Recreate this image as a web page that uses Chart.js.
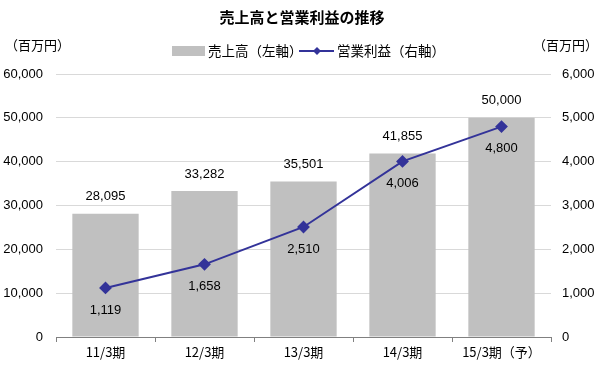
<!DOCTYPE html>
<html><head><meta charset="utf-8">
<script src="https://cdn.jsdelivr.net/npm/chart.js@4.4.1/dist/chart.umd.min.js"></script>
<style>html,body{margin:0;padding:0;background:#fff}#wrap{width:600px;height:365px}</style>
</head><body><div id="wrap"><canvas id="c" width="600" height="365"></canvas></div>
<script>
const chartTitle = '売上高と営業利益の推移';
const unitLabel = '（百万円）';
const categories = ['11/3期', '12/3期', '13/3期', '14/3期', '15/3期（予）'];
const salesLabel = '売上高（左軸）';
const profitLabel = '営業利益（右軸）';
const sales = [28095, 33282, 35501, 41855, 50000];
const profit = [1119, 1658, 2510, 4006, 4800];
const leftAxis = { min: 0, max: 60000, step: 10000 };
const rightAxis = { min: 0, max: 6000, step: 1000 };

const JP = '"Noto Sans CJK JP", sans-serif';
const NUM = '"Liberation Sans", Arial, sans-serif';
const BAR_COLOR = '#c0c0c0';
const LINE_COLOR = '#333399';
const fmt = v => Number(v).toLocaleString('en-US');

const decor = {
  id: 'decor',
  afterDatasetsDraw(chart) {
    const ctx = chart.ctx;
    ctx.save();
    ctx.fillStyle = '#000';
    ctx.textAlign = 'center';
    ctx.textBaseline = 'middle';
    ctx.font = '13px ' + NUM;
    chart.getDatasetMeta(0).data.forEach((el, i) => {
      ctx.fillText(fmt(sales[i]), el.x, el.y - 17);
    });
    chart.getDatasetMeta(1).data.forEach((el, i) => {
      ctx.fillText(fmt(profit[i]), el.x, el.y + 22);
    });
    ctx.restore();
  },
  afterDraw(chart) {
    const ctx = chart.ctx;
    ctx.save();
    ctx.fillStyle = '#000';
    ctx.textBaseline = 'middle';
    // title
    ctx.textAlign = 'center';
    ctx.font = 'bold 15px ' + JP;
    ctx.fillText(chartTitle, 302, 17);
    // units
    ctx.font = '13px ' + JP;
    ctx.textAlign = 'left';
    ctx.fillText(unitLabel, 5, 45);
    ctx.textAlign = 'right';
    ctx.fillText(unitLabel, 598, 45);
    // legend
    const ly = 51;
    ctx.fillStyle = BAR_COLOR;
    ctx.fillRect(172, ly - 5, 33, 10);
    ctx.fillStyle = '#000';
    ctx.textAlign = 'left';
    ctx.font = '13.5px ' + JP;
    ctx.fillText(salesLabel, 208, ly);
    ctx.strokeStyle = LINE_COLOR;
    ctx.lineWidth = 2;
    ctx.beginPath(); ctx.moveTo(299, ly); ctx.lineTo(334, ly); ctx.stroke();
    ctx.fillStyle = LINE_COLOR;
    ctx.beginPath();
    ctx.moveTo(317, ly - 4); ctx.lineTo(321, ly); ctx.lineTo(317, ly + 4); ctx.lineTo(313, ly);
    ctx.closePath(); ctx.fill();
    ctx.fillStyle = '#000';
    ctx.fillText(profitLabel, 337, ly);
    ctx.restore();
  }
};

new Chart(document.getElementById('c'), {
  data: {
    labels: categories,
    datasets: [
      { type: 'bar', label: salesLabel, data: sales, yAxisID: 'y', order: 1,
        backgroundColor: BAR_COLOR, categoryPercentage: 1, barPercentage: 0.67 },
      { type: 'line', label: profitLabel, data: profit, yAxisID: 'y1', order: 0,
        borderColor: LINE_COLOR, backgroundColor: LINE_COLOR, borderWidth: 2,
        pointStyle: 'rectRot', pointRadius: 5, pointHoverRadius: 5, tension: 0 }
    ]
  },
  options: {
    responsive: false,
    animation: false,
    devicePixelRatio: 1,
    layout: { padding: { top: 74, bottom: 0, left: 0, right: 0 } },
    plugins: { legend: { display: false }, title: { display: false }, tooltip: { enabled: false } },
    scales: {
      x: {
        offset: true,
        grid: { offset: true, drawOnChartArea: false, drawTicks: true, tickLength: 5, color: '#808080' },
        border: { display: true, color: '#808080', width: 1 },
        ticks: { color: '#000', font: { family: JP, size: 13 }, padding: 2, maxRotation: 0 },
        afterFit: s => { s.height = 28; }
      },
      y: {
        position: 'left', min: leftAxis.min, max: leftAxis.max,
        ticks: { stepSize: leftAxis.step, color: '#000', font: { family: NUM, size: 13 }, padding: 13, callback: v => fmt(v) },
        grid: { color: '#d9d9d9', drawTicks: false },
        border: { display: false },
        afterFit: s => { s.width = 56; }
      },
      y1: {
        position: 'right', min: rightAxis.min, max: rightAxis.max,
        ticks: { stepSize: rightAxis.step, color: '#000', font: { family: NUM, size: 13 }, padding: 11, callback: v => fmt(v) },
        grid: { drawOnChartArea: false, drawTicks: false },
        border: { display: false },
        afterFit: s => { s.width = 49; }
      }
    }
  },
  plugins: [decor]
});
</script></body></html>
